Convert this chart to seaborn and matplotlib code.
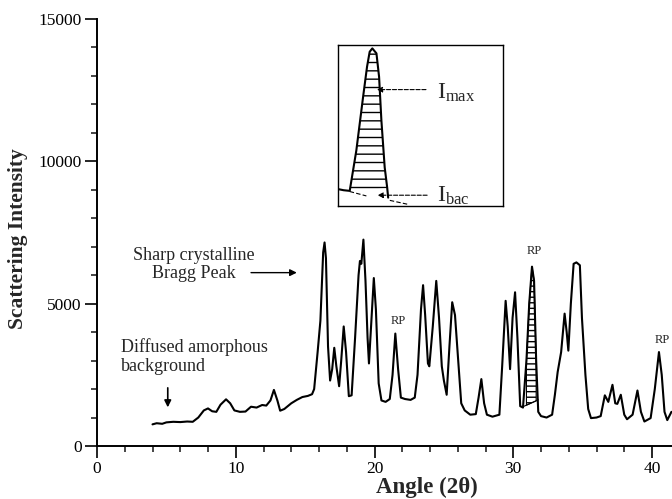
import numpy as np
import pandas as pd
import matplotlib
matplotlib.use("Agg")
import matplotlib.pyplot as plt
from matplotlib.ticker import MultipleLocator
import seaborn as sns

# XRD trace
angle = [4.0, 4.3, 4.7, 5.0, 5.5, 6.0, 6.5, 6.9, 7.3, 7.7, 8.0, 8.3, 8.6, 8.9,
         9.3, 9.6, 9.9, 10.3, 10.7, 11.1, 11.5, 11.9, 12.2, 12.5, 12.75, 13.0,
         13.2, 13.5, 14.0, 14.4, 14.8, 15.2, 15.5, 15.65, 15.9, 16.1, 16.3,
         16.4, 16.5, 16.65, 16.8, 16.95, 17.1, 17.25, 17.45, 17.6, 17.78,
         17.95, 18.15, 18.35, 18.6, 18.85, 18.95, 19.05, 19.2, 19.35, 19.5,
         19.6, 19.75, 19.95, 20.1, 20.3, 20.5, 20.8, 21.1, 21.3, 21.5, 21.7,
         21.9, 22.2, 22.6, 22.9, 23.1, 23.35, 23.5, 23.65, 23.85, 23.95, 24.2,
         24.45, 24.65, 24.85, 25.0, 25.2, 25.4, 25.6, 25.8, 26.0, 26.25, 26.5,
         26.9, 27.3, 27.5, 27.7, 27.9, 28.1, 28.5, 29.0, 29.2, 29.45, 29.6,
         29.77, 29.95, 30.13, 30.3, 30.5, 30.7, 30.95, 31.15, 31.35, 31.5,
         31.65, 31.8, 32.0, 32.4, 32.8, 33.0, 33.2, 33.45, 33.7, 33.85, 33.97,
         34.15, 34.35, 34.55, 34.8, 34.95, 35.2, 35.4, 35.6, 36.0, 36.3, 36.6,
         36.85, 37.15, 37.35, 37.5, 37.75, 38.0, 38.2, 38.6, 38.95, 39.2,
         39.45, 39.9, 40.2, 40.5, 40.7, 40.9, 41.1, 41.4]
intensity = [760, 800, 780, 830, 850, 840, 860, 850, 1000, 1250, 1320, 1220,
             1200, 1450, 1640, 1500, 1250, 1200, 1210, 1380, 1350, 1440, 1420,
             1600, 1970, 1600, 1240, 1300, 1500, 1620, 1720, 1760, 1820, 2000,
             3300, 4400, 6800, 7150, 6600, 3500, 2300, 2700, 3450, 2800, 2100,
             3000, 4200, 3300, 1750, 1780, 3800, 6000, 6500, 6400, 7250, 5800,
             3800, 2900, 4200, 5900, 4800, 2200, 1600, 1550, 1650, 2500, 3950,
             2700, 1700, 1650, 1620, 1700, 2500, 4800, 5650, 4600, 2900, 2800,
             4200, 5800, 4500, 2800, 2300, 1800, 3500, 5050, 4600, 3200, 1500,
             1250, 1100, 1120, 1700, 2350, 1500, 1100, 1030, 1100, 2800, 5100,
             4200, 2700, 4500, 5400, 3800, 1400, 1350, 3000, 5000, 6300, 5800,
             3000, 1200, 1050, 1000, 1100, 1800, 2600, 3300, 4650, 4000, 3350,
             5000, 6400, 6450, 6350, 4500, 2500, 1300, 980, 1000, 1050, 1780,
             1550, 2150, 1500, 1480, 1800, 1100, 940, 1100, 1950, 1200, 860,
             980, 2000, 3300, 2500, 1200, 910, 1200]

# baseline under the hatched RP peak
hatch_x = [30.7, 31.8]
hatch_y = [1380, 1620]

# inset sketch of one peak (axes fraction units)
inset_u = [0.0, 0.034, 0.071, 0.111, 0.152, 0.176, 0.192, 0.208, 0.233,
           0.249, 0.263, 0.283, 0.298, 0.304]
inset_v = [0.105, 0.098, 0.094, 0.344, 0.677, 0.865, 0.958, 0.979, 0.948,
           0.802, 0.531, 0.240, 0.115, 0.052]
inset_base_u = [0.071, 0.304]
inset_base_v = [0.094, 0.11]

rp_labels = [(21.7, 4390), (31.53, 6850), (40.72, 3740)]

df = pd.DataFrame({"angle": angle, "intensity": intensity})

sns.set_style("ticks")
plt.rcParams["font.family"] = ["Liberation Serif", "DejaVu Serif"]
plt.rcParams["mathtext.fontset"] = "custom"
plt.rcParams["mathtext.rm"] = "Liberation Serif"

fig = plt.figure(figsize=(6.72, 4.99), dpi=100)
ax = fig.add_axes([97 / 672, 53 / 499, 1 - 97 / 672, (446 - 19) / 499])

sns.lineplot(data=df, x="angle", y="intensity", ax=ax, color="black",
             linewidth=1.5, estimator=None, sort=False)

# hatched area for the RP peak near 31.4
xa = np.array(angle)
ya = np.array(intensity)
m = (xa >= hatch_x[0]) & (xa <= hatch_x[1])
base = np.interp(xa[m], hatch_x, hatch_y)
ax.fill_between(xa[m], ya[m], base, where=ya[m] >= base, facecolor="none",
                edgecolor="black", hatch="---", linewidth=0.8)
ax.plot(hatch_x, hatch_y, color="black", linewidth=0.8)

ax.set_xlim(0, 41.44)
ax.set_ylim(0, 15000)
ax.xaxis.set_major_locator(MultipleLocator(10))
ax.xaxis.set_minor_locator(MultipleLocator(2))
ax.yaxis.set_major_locator(MultipleLocator(5000))
ax.yaxis.set_minor_locator(MultipleLocator(1000))
ax.tick_params(which="major", direction="out", length=8.5, width=1.2,
               labelsize=12.5, colors="black", pad=2.5)
ax.tick_params(which="minor", direction="out", length=4.3, width=1.2)
for s in ["left", "bottom"]:
    ax.spines[s].set_linewidth(1.4)
    ax.spines[s].set_color("black")
sns.despine(ax=ax)

ax.set_xlabel("Angle (2θ)", fontsize=16.5, fontweight="bold")
ax.set_ylabel("Scattering Intensity", fontsize=15.5, fontweight="bold")
ax.xaxis.set_label_coords(0.574, -0.072)
ax.yaxis.set_label_coords(-0.12, 0.486)

for rx, ry in rp_labels:
    ax.text(rx, ry, "RP", fontsize=9, ha="center", va="center")

ax.text(7.0, 6375, "Sharp crystalline\nBragg Peak", fontsize=13,
        ha="center", va="center", linespacing=1.15)
ax.annotate("", xy=(14.6, 6090), xytext=(10.9, 6090),
            arrowprops=dict(arrowstyle="-|>", color="black", lw=1,
                            mutation_scale=10))
ax.text(1.7, 3126, "Diffused amorphous\nbackground", fontsize=13,
        ha="left", va="center", linespacing=1.15)
ax.annotate("", xy=(5.1, 1260), xytext=(5.1, 2140),
            arrowprops=dict(arrowstyle="-|>", color="black", lw=1.2,
                            mutation_scale=10))

# inset box
ins = fig.add_axes([338 / 672, (499 - 206) / 499, 165 / 672, 161 / 499])
ins.set_xlim(0, 1)
ins.set_ylim(0, 1)
ins.set_xticks([])
ins.set_yticks([])
for s in ins.spines.values():
    s.set_visible(True)
    s.set_linewidth(1.0)
    s.set_color("black")
ins.plot(inset_u, inset_v, color="black", linewidth=1.5)
iu = np.array(inset_u[2:])
iv = np.array(inset_v[2:])
ib = np.interp(iu, inset_base_u, inset_base_v)
ins.fill_between(iu, iv, ib, where=iv >= ib, facecolor="none",
                 edgecolor="black", hatch="--", linewidth=0)
ins.plot([0.071, 0.172], [0.090, 0.0625], color="black", linewidth=0.8,
         linestyle=(0, (4, 2)))
ins.plot([0.314, 0.425], [0.035, 0.010], color="black", linewidth=0.8,
         linestyle=(0, (4, 2)))
ins.annotate("", xy=(0.219, 0.723), xytext=(0.55, 0.723),
             arrowprops=dict(arrowstyle="-|>", color="black", lw=0.8,
                             linestyle="--", mutation_scale=8))
ins.annotate("", xy=(0.223, 0.067), xytext=(0.557, 0.067),
             arrowprops=dict(arrowstyle="-|>", color="black", lw=0.8,
                             linestyle="--", mutation_scale=8))
ins.text(0.597, 0.70, r"$\mathregular{I_{max}}$", fontsize=17,
         ha="left", va="center")
ins.text(0.597, 0.065, r"$\mathregular{I_{bac}}$", fontsize=17,
         ha="left", va="center")

fig.savefig("out.png", dpi=100)
